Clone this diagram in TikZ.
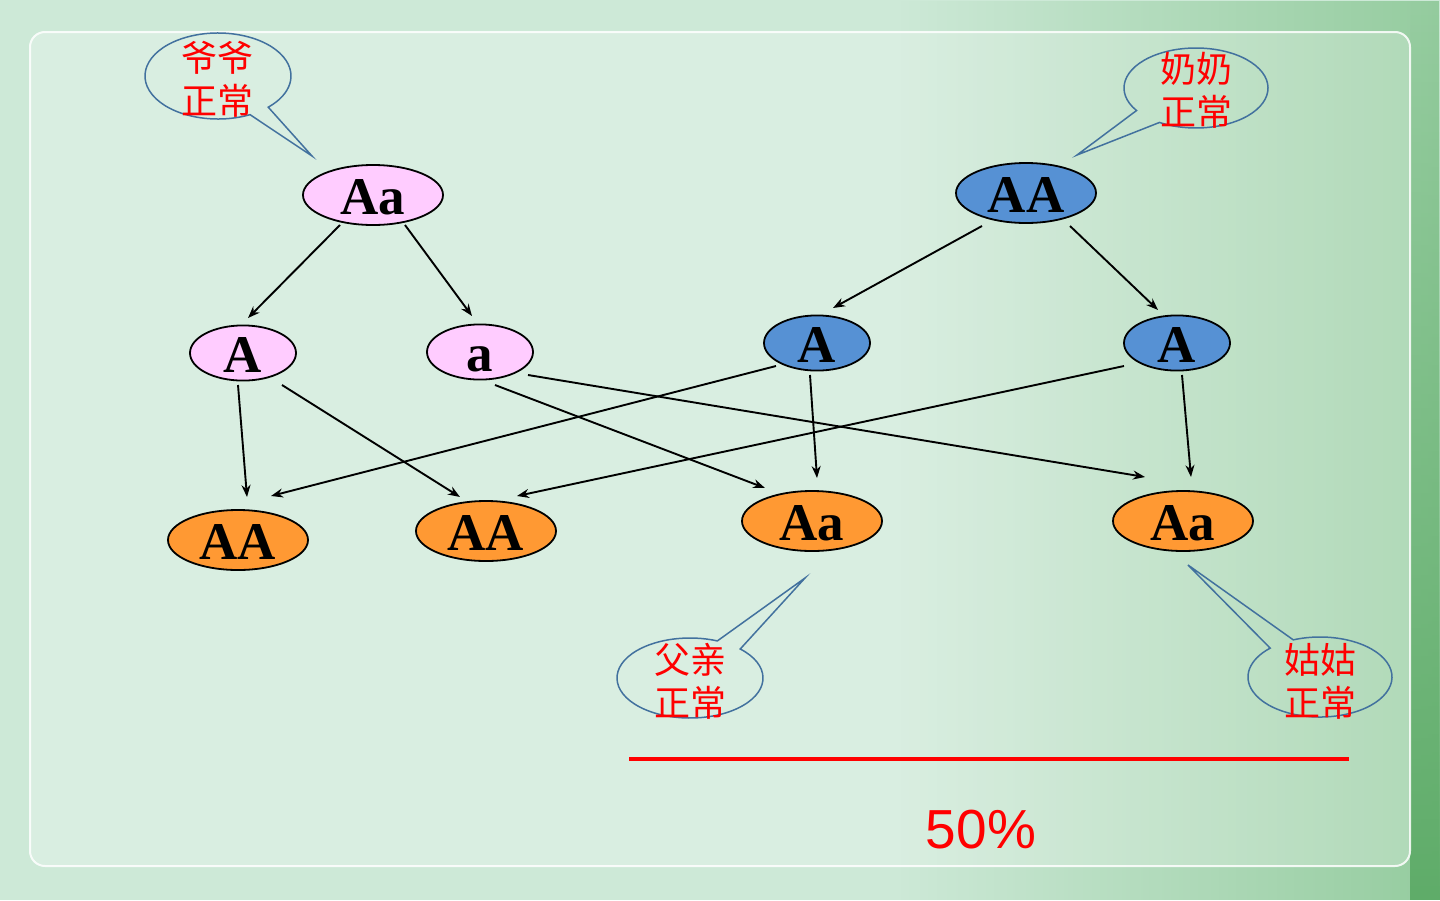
\documentclass[tikz,border=0pt]{standalone}
\usepackage{fontspec}
\setmainfont{Liberation Serif}
\newfontfamily\cjk{Noto Sans CJK SC}
\newfontfamily\pctfont{Liberation Sans}
\usetikzlibrary{shapes.geometric,arrows.meta,calc,fadings}
\definecolor{gtPink}{RGB}{255,204,255}
\definecolor{gtBlue}{RGB}{86,145,212}
\definecolor{gtOrange}{RGB}{255,153,51}
\definecolor{bubbleLine}{RGB}{66,113,158}
\definecolor{bgBase}{RGB}{205,233,215}
\definecolor{bgGreen}{RGB}{125,192,135}
\definecolor{bgEdge}{RGB}{95,172,105}
\tikzset{
  gene/.style={ellipse, draw=black, line width=1.8pt, inner sep=0pt, text height=39pt, text depth=0pt,
    font=\fontsize{53}{60}\selectfont\bfseries},
  parent/.style={gene, minimum width=140pt, minimum height=60pt},
  gamete/.style={gene, minimum width=106pt, minimum height=47pt},
  link/.style={-{Stealth[length=12pt,width=9pt]}, line width=1.9pt},
  bubble/.style={draw=bubbleLine, line width=1.5pt},
  say/.style={text=red, font=\cjk\fontsize{36}{43}\selectfont, align=center}
}

\begin{document}
\begin{tikzpicture}[x=1pt,y=-1pt]
  \useasboundingbox (0,0) rectangle (1440,900);
  % background and panel
  \fill[bgBase] (0,0) rectangle (1440,900);
  \fill[bgGreen, opacity=0.7, path fading=west] (900,0) rectangle (1440,900);
  \fill[bgEdge, path fading=north] (1410,0) rectangle (1440,900);
  \fill[white, opacity=0.25, rounded corners=15pt] (30,32) rectangle (1410,866);
  \draw[white, opacity=0.85, line width=2pt, rounded corners=15pt] (30,32) rectangle (1410,866);

  % grandparents
  \node[parent, fill=gtPink] (gpa) at (373,195) {Aa};
  \node[parent, fill=gtBlue] (gma) at (1026,193) {AA};

  % gametes
  \node[gamete, fill=gtPink] (pA) at (243,353) {A};
  \node[gamete, fill=gtPink] (pa) at (480,352) {a};
  \node[gamete, fill=gtBlue] (bA) at (817,343) {A};
  \node[gamete, fill=gtBlue] (bB) at (1177,343) {A};

  % children
  \node[parent, fill=gtOrange] (c1) at (238,540) {AA};
  \node[parent, fill=gtOrange] (c2) at (486,531) {AA};
  \node[parent, fill=gtOrange] (c3) at (812,521) {Aa};
  \node[parent, fill=gtOrange] (c4) at (1183,521) {Aa};

  % arrows
  \foreach \src/\sx/\sy/\dst/\dx/\dy in {gpa/-33/30/pA/5/-35, gpa/32/30/pa/-8/-36,
      gma/-44/33/bA/16/-35, gma/44/33/bB/-19/-33,
      pA/-5/32/c1/9/-43, pA/39/32/c2/-26/-34,
      pa/15/33/c3/-47/-33, pa/48/23/c4/-38/-44,
      bA/-41/23/c1/33/-44, bA/-7/32/c3/5/-43,
      bB/-53/23/c2/31/-35, bB/5/32/c4/8/-44}
    \draw[link] ($(\src)+(\sx,\sy)$) -- ($(\dst)+(\dx,\dy)$);

  % speech bubbles
  \foreach \cx/\cy/\rx/\ry/\ga/\gb/\tx/\ty in {218/76/73/43/46.5/64/312/156,
      1196/88/72/40/120.5/145.7/1077/155,
      690/678/73/40/-68/-46.5/805/578,
      1320/677/72/40/-133.8/-111.8/1188/565}
    \draw[bubble] (\tx,\ty) -- ({\cx+\rx*cos(\gb)},{\cy+\ry*sin(\gb)})
      arc[start angle=\gb, end angle={\ga+360}, x radius=\rx, y radius=\ry] -- cycle;

  \node[say] (gpaSay) at (217,79) {爷爷\\正常};
  \node[say] (gmaSay) at (1196,90) {奶奶\\正常};
  \node[say] (dadSay) at (690,681) {父亲\\正常};
  \node[say] (auntSay) at (1320,681) {姑姑\\正常};

  % result
  \draw[red, line width=4pt] (629,759) -- (1349,759);
  \node[text=red, font=\pctfont\fontsize{55}{60}\selectfont] (pct) at (981,830) {50\%};
\end{tikzpicture}
\end{document}
